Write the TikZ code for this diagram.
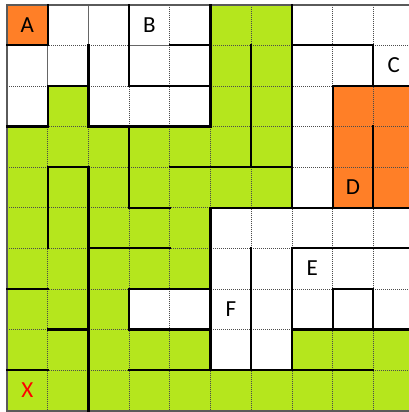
\documentclass[tikz,border=0pt]{standalone}
\usepackage{fontspec}
\setmainfont{Carlito}
\definecolor{lime}{RGB}{181,230,29}
\definecolor{orng}{RGB}{255,127,39}
\definecolor{bordergray}{RGB}{90,90,90}
\tikzset{
  gridline/.style={line width=0.8pt, black!70, dash pattern=on 1pt off 1pt},
  wall/.style={line width=2.2pt, black, line cap=rect},
  thinsolid/.style={line width=1.2pt, black!60},
  border/.style={line width=2pt, bordergray},
  lbl/.style={font=\fontsize{23}{23}\selectfont, inner sep=0pt, text=black}
}
\newcommand{\cw}{40.7}
\newcommand{\ch}{40.6}
\newcommand{\ox}{7}
\newcommand{\oy}{4.7}
\begin{document}
\begin{tikzpicture}[x=1pt,y=-1pt]
\useasboundingbox (0,0) rectangle (409,412);
\clip (0,0) rectangle (409,412);
\fill[white] (0,0) rectangle (409,412);
% orange cells
\foreach \c/\r in {0/0,8/2,9/2,8/3,9/3,8/4,9/4}
  \fill[orng] ({\ox+\cw*\c},{\oy+\ch*\r}) rectangle ++(\cw,\ch);
% green cells
\foreach \c/\r in {5/0,6/0, 5/1,6/1, 1/2,5/2,6/2,
  0/3,1/3,2/3,3/3,4/3,5/3,6/3, 0/4,1/4,2/4,3/4,4/4,5/4,6/4,
  0/5,1/5,2/5,3/5,4/5, 0/6,1/6,2/6,3/6,4/6, 0/7,1/7,2/7,
  0/8,1/8,2/8,3/8,4/8,7/8,8/8,9/8,
  0/9,1/9,2/9,3/9,4/9,5/9,6/9,7/9,8/9,9/9}
  \fill[lime] ({\ox+\cw*\c},{\oy+\ch*\r}) rectangle ++(\cw,\ch);
% dotted grid
\foreach \i in {1,...,9} {
  \draw[gridline] ({\ox+\cw*\i},{\oy}) -- ({\ox+\cw*\i},{\oy+\ch*10});
  \draw[gridline] ({\ox},{\oy+\ch*\i}) -- ({\ox+\cw*10},{\oy+\ch*\i});
}
% thin solid segments
\foreach \i/\r in {2/0,1/1}
  \draw[thinsolid] ({\ox+\cw*\i},{\oy+\ch*\r}) -- ++(0,\ch);
\foreach \j/\c in {1/3}
  \draw[thinsolid] ({\ox+\cw*\c},{\oy+\ch*\j}) -- ++(\cw,0);
% outer border
\draw[border] ({\ox},{\oy}) rectangle ({\ox+\cw*10},{\oy+\ch*10});
% vertical walls
\foreach \i/\r in {1/0,1/2,1/4,1/5, 2/1,2/2,2/4,2/5,2/6,2/7,2/8,2/9,
  3/0,3/1,3/3,3/4,3/7, 5/0,5/1,5/2,5/5,5/6,5/7,5/8,
  6/1,6/2,6/3,6/6,6/7,6/8, 7/0,7/1,7/2,7/3,7/4,7/6,7/7,7/8,
  8/2,8/3,8/4,8/7, 9/1,9/3,9/4,9/7}
  \draw[wall] ({\ox+\cw*\i},{\oy+\ch*\r}) -- ++(0,\ch);
% horizontal walls
\foreach \j/\c in {1/0,1/4,1/7,1/8, 2/1,2/3,2/4,2/8,2/9,
  3/0,3/2,3/3,3/4, 4/1,4/4,4/5,4/6,
  5/3,5/5,5/6,5/7,5/8,5/9, 6/2,6/3,6/7,6/8,6/9,
  7/0,7/3,7/4,7/8, 8/1,8/3,8/4,8/7,8/8,8/9,
  9/0,9/3,9/4,9/5,9/6,9/7,9/8}
  \draw[wall] ({\ox+\cw*\c},{\oy+\ch*\j}) -- ++(\cw,0);
% labels
\node[lbl] (A) at ({\ox+\cw*0.5},{\oy+\ch*0.5}) {A};
\node[lbl] (B) at ({\ox+\cw*3.5},{\oy+\ch*0.5}) {B};
\node[lbl] (C) at ({\ox+\cw*9.5},{\oy+\ch*1.5}) {C};
\node[lbl] (D) at ({\ox+\cw*8.5},{\oy+\ch*4.5}) {D};
\node[lbl] (E) at ({\ox+\cw*7.5},{\oy+\ch*6.5}) {E};
\node[lbl] (F) at ({\ox+\cw*5.5},{\oy+\ch*7.5}) {F};
\node[lbl, text=red] (X) at ({\ox+\cw*0.5},{\oy+\ch*9.5}) {X};
\end{tikzpicture}
\end{document}
